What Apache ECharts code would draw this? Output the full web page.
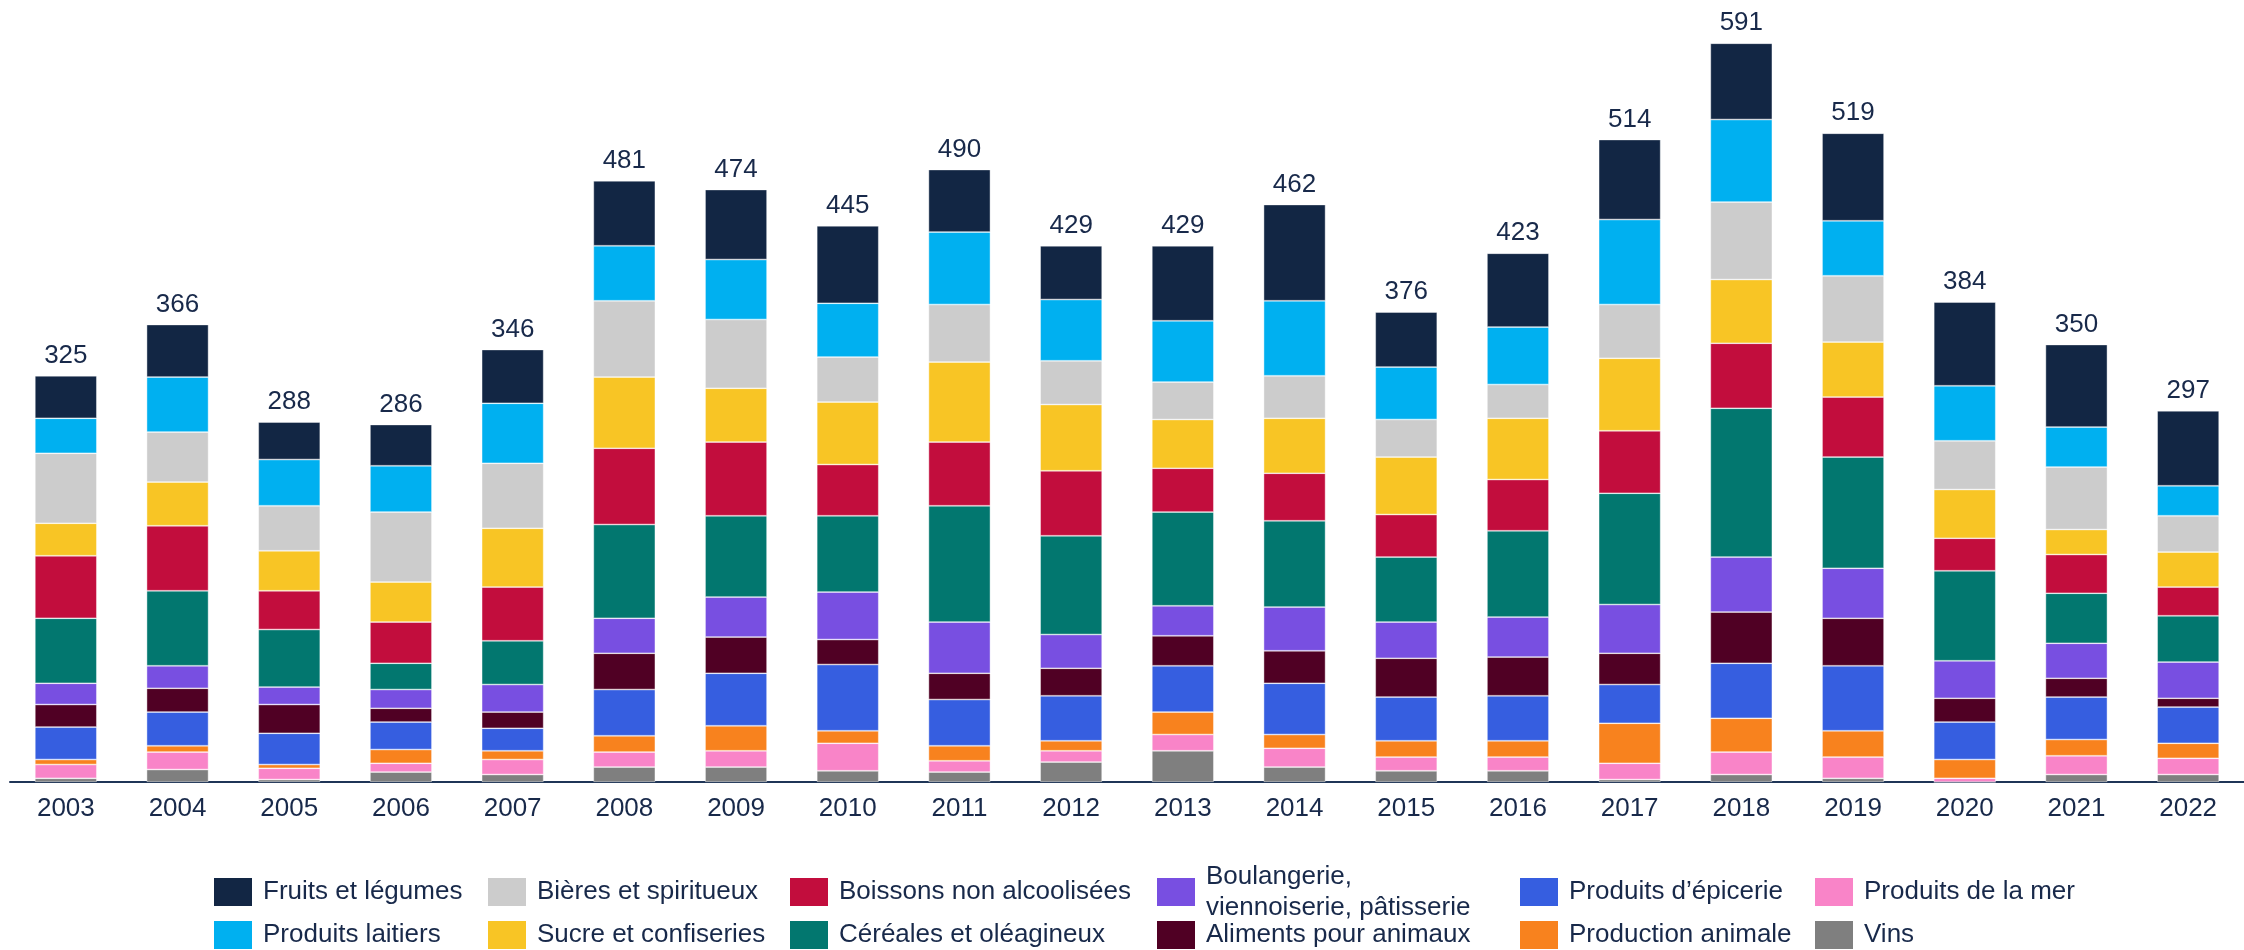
<!DOCTYPE html>
<html>
<head>
<meta charset="utf-8">
<script src="https://cdn.jsdelivr.net/npm/echarts@6/dist/echarts.min.js"></script>
<style>
html,body{margin:0;padding:0;background:#ffffff;}
#chart{width:2244px;height:950px;}
</style>
</head>
<body>
<div id="chart"></div>
<script>
// ---- Data ----
const years = ['2003','2004','2005','2006','2007','2008','2009','2010','2011','2012','2013','2014','2015','2016','2017','2018','2019','2020','2021','2022'];
const totals = [325,366,288,286,346,481,474,445,490,429,429,462,376,423,514,591,519,384,350,297];

// series from bottom of the stack to top
const vins          = [3,10,2,8,6,12,12,9,8,16,25,12,9,9,2,6,3,0,6,6];
const produitsMer   = [11,14,9,7,12,12,13,22,9,9,13,15,11,11,13,18,17,3,15,13];
const prodAnimale   = [4,5,3,11,7,13,20,10,12,8,18,11,13,13,32,27,21,15,13,12];
const epicerie      = [26,27,25,22,18,37,42,53,37,36,37,41,35,36,31,44,52,30,34,29];
const alimAnimaux   = [18,19,23,11,13,29,29,20,21,22,24,26,31,31,25,41,38,19,15,7];
const boulangerie   = [17,18,14,15,22,28,32,38,41,27,24,35,29,32,39,44,40,30,28,29];
const cereales      = [52,60,46,21,35,75,65,61,93,79,75,69,52,69,89,119,89,72,40,37];
const boissons      = [50,52,31,33,43,61,59,41,51,52,35,38,34,41,50,52,48,26,31,23];
const sucre         = [26,35,32,32,47,57,43,50,64,53,39,44,46,49,58,51,44,39,20,28];
const bieres        = [56,40,36,56,52,61,55,36,46,35,30,34,30,27,43,62,53,39,50,29];
const laitiers      = [28,44,37,37,48,44,48,43,58,49,49,60,42,46,68,66,44,44,32,24];
const fruits        = [34,42,30,33,43,52,56,62,50,43,60,77,44,59,64,61,70,67,66,60];

const names = ['Vins','Produits de la mer','Production animale','Produits d\u2019épicerie','Aliments pour animaux','Boulangerie,\nviennoiserie, pâtisserie','Céréales et oléagineux','Boissons non alcoolisées','Sucre et confiseries','Bières et spiritueux','Produits laitiers','Fruits et légumes'];
const values = [vins, produitsMer, prodAnimale, epicerie, alimAnimaux, boulangerie, cereales, boissons, sucre, bieres, laitiers, fruits];
const colors = ['#7f7f7f','#f984c8','#f8821e','#365ee0','#500024','#784fe1','#02776f','#c20d3d','#f8c525','#cccccc','#00b0f0','#122644'];

// ---- Styles ----
const FONT = 'Liberation Sans, Arial, sans-serif';
const TEXT = '#18294a';

const chart = echarts.init(document.getElementById('chart'), null, {renderer:'canvas'});

const series = names.map((n, i) => {
  const s = {
    name: n,
    type: 'bar',
    stack: 'total',
    barWidth: 62,
    data: values[i],
    itemStyle: {color: colors[i], borderColor: 'rgba(255,255,255,0.55)', borderWidth: 0.75},
    emphasis: {disabled: true},
    animation: false
  };
  if (i === names.length - 1) {
    s.label = {
      show: true,
      position: 'top',
      distance: 7,
      fontFamily: FONT,
      fontSize: 26,
      color: TEXT,
      formatter: p => String(totals[p.dataIndex])
    };
  }
  return s;
});

// legend layout: column-major, top of stack first
const legendOrder = [11,10,9,8,7,6,5,4,3,2,1,0];
const colX = [214, 488, 790, 1157, 1520, 1815];
const rowCenter = [892, 935];
const legends = legendOrder.map((si, k) => {
  const col = Math.floor(k / 2), row = k % 2;
  const twoLine = names[si].indexOf('\n') >= 0;
  const h = twoLine ? 62 : 31;
  return {
    data: [names[si]],
    left: colX[col],
    top: rowCenter[row] - h / 2,
    padding: 0,
    icon: 'rect',
    itemWidth: 38,
    itemHeight: 28,
    selectedMode: false,
    itemStyle: {borderWidth: 0},
    textStyle: {fontFamily: FONT, fontSize: 26, lineHeight: 31, color: TEXT, padding: [0,0,0,6]}
  };
});

chart.setOption({
  backgroundColor: '#ffffff',
  animation: false,
  textStyle: {fontFamily: FONT},
  grid: {left: 10, top: 32, width: 2251.4, height: 750, containLabel: false},
  xAxis: {
    type: 'category',
    data: years,
    axisLine: {show: true, lineStyle: {color: '#1f3557', width: 2}},
    axisTick: {show: false},
    axisLabel: {fontFamily: FONT, fontSize: 26, color: TEXT, margin: 14}
  },
  yAxis: {
    type: 'value',
    min: 0,
    max: 600,
    show: false,
    splitLine: {show: false}
  },
  legend: legends,
  series: series
});
</script>
</body>
</html>
